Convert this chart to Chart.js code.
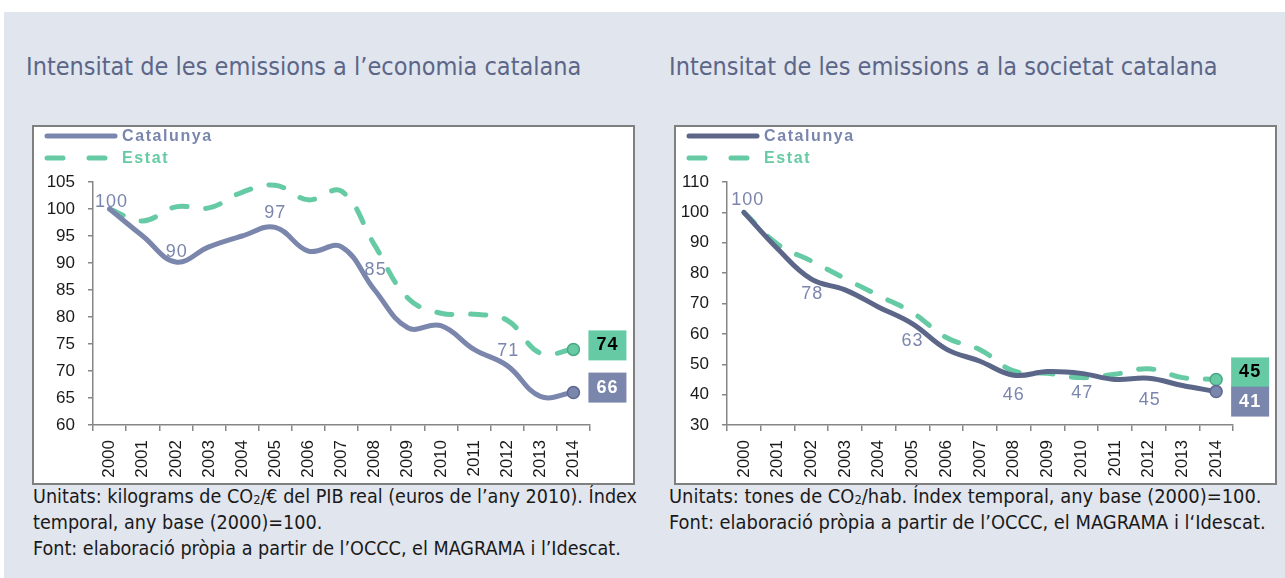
<!DOCTYPE html>
<html><head><meta charset="utf-8">
<script src="https://cdn.jsdelivr.net/npm/chart.js@4.4.1/dist/chart.umd.min.js"></script>
<style>
html,body{margin:0;padding:0;background:#fff;width:1285px;height:578px;overflow:hidden;position:relative;}
#panel{position:absolute;left:4px;top:12px;width:1281px;height:566px;background:#e1e5ee;}
.title{position:absolute;top:55px;height:24px;line-height:24px;font-family:"Liberation Sans Narrow","DejaVu Sans Condensed",sans-serif;font-size:25px;color:#5b6688;white-space:nowrap;}
.box{position:absolute;top:125px;width:599px;height:356px;border:2px solid #7f7f7f;background:#fff;}
.box canvas{display:block;}
.note{position:absolute;top:484px;font-family:"Liberation Sans Narrow","DejaVu Sans Condensed",sans-serif;font-size:19.6px;line-height:26px;color:#1a1a1a;white-space:nowrap;}
.note sub{font-size:0.65em;vertical-align:-0.1em;line-height:0;}
</style></head>
<body>
<div id="panel"></div>
<div class="title" style="left:26px">Intensitat de les emissions a l’economia catalana</div>
<div class="title" style="left:669px">Intensitat de les emissions a la societat catalana</div>
<div class="box" style="left:32px"><canvas id="c1" width="599" height="356"></canvas></div>
<div class="box" style="left:674px"><canvas id="c2" width="599" height="356"></canvas></div>
<div class="note" style="left:33px">Unitats: kilograms de CO<sub>2</sub>/€ del PIB real (euros de l’any 2010). Índex<br>temporal, any base (2000)=100.<br>Font: elaboració pròpia a partir de l’OCCC, el MAGRAMA i l’Idescat.</div>
<div class="note" style="left:669px;font-size:19.9px">Unitats: tones de CO<sub>2</sub>/hab. Índex temporal, any base (2000)=100.<br>Font: elaboració pròpia a partir de l’OCCC, el MAGRAMA i l‘Idescat.</div>
<script>
const years = ['2000','2001','2002','2003','2004','2005','2006','2007','2008','2009','2010','2011','2012','2013','2014'];
const seriesNames = ['Catalunya', 'Estat'];
// Intensitat de les emissions a l'economia catalana
const economiaCatalunya = [100, 95, 90.2, 93, 95, 96.6, 92.2, 93, 85, 78, 78.4, 74, 71, 65.3, 66];
const economiaEstat = [100, 97.8, 100.4, 100.2, 103.1, 104.4, 101.7, 103.3, 93.3, 83.5, 80.7, 80.5, 79.4, 73.3, 74];
const economiaYTicks = [60, 105, 5];
const economiaLabelIdx = [0, 2, 5, 8, 12];
// Intensitat de les emissions a la societat catalana
const societatCatalunya = [100, 88, 78, 74.5, 68.8, 63.3, 55, 51, 46.4, 47.6, 47, 45, 45.4, 43, 41];
const societatEstat = [100, 89.5, 84, 78.2, 72.6, 67, 58.8, 54.8, 47.8, 47, 45.6, 46.7, 48.5, 45.6, 45];
const societatYTicks = [30, 110, 10];
const societatLabelIdx = [0, 2, 5, 8, 10, 12];

const TICK_FONT = {family: "'Liberation Sans', Arial, sans-serif", size: 17};
const GREEN = '#66cba4', GREEN_DK = '#4aa882';

function makeChart(id, catVals, estVals, yt, labelIdx, cfg) {
  const last = years.length - 1;
  const radius = years.map((_, i) => i === last ? 6 : 0);
  const plugin = {
    id: 'decor' + id,
    afterDatasetsDraw(chart) {
      const ctx = chart.ctx;
      const meta = chart.getDatasetMeta(0);
      ctx.save();
      ctx.font = "18px 'Liberation Sans', Arial, sans-serif";
      ctx.letterSpacing = '1px';
      ctx.fillStyle = '#7b86ad';
      ctx.textAlign = 'center';
      ctx.textBaseline = 'middle';
      labelIdx.forEach((i, k) => {
        const el = meta.data[i];
        ctx.fillText(String(Math.round(catVals[i])), el.x + cfg.labelDx[k], el.y + cfg.labelDy[k]);
      });
      ctx.font = "bold 18px 'Liberation Sans', Arial, sans-serif";
      ctx.letterSpacing = '1px';
      [[1, estVals, GREEN, '#000', cfg.endDy[1]], [0, catVals, '#7b86ad', '#fff', cfg.endDy[0]]].forEach(([di, vals, bg, fg, dy]) => {
        const el = chart.getDatasetMeta(di).data[last];
        const x0 = el.x + 15, y0 = el.y + dy - 15;
        ctx.fillStyle = bg;
        ctx.fillRect(x0, y0, 38, 30);
        ctx.fillStyle = fg;
        ctx.fillText(String(Math.round(vals[last])), x0 + 19, y0 + 15);
      });
      ctx.restore();
    },
    afterDraw(chart) {
      const ctx = chart.ctx;
      ctx.save();
      chart.data.datasets.forEach((ds, k) => {
        const y = 9 + k * 22;
        ctx.beginPath();
        ctx.lineWidth = 5;
        ctx.lineCap = 'round';
        ctx.strokeStyle = ds.borderColor;
        ctx.setLineDash(k === 1 ? [16, 26] : []);
        ctx.moveTo(13, y); ctx.lineTo(81, y);
        ctx.stroke();
        ctx.setLineDash([]);
        ctx.font = "bold 16px 'Liberation Sans', Arial, sans-serif";
        ctx.letterSpacing = '1.6px';
        ctx.fillStyle = k === 1 ? GREEN : '#7b86ad';
        ctx.textBaseline = 'middle';
        ctx.textAlign = 'left';
        ctx.fillText(ds.label, 88, y + 1);
      });
      ctx.restore();
    }
  };
  return new Chart(document.getElementById(id), {
    type: 'line',
    data: {
      labels: years,
      datasets: [
        {label: seriesNames[0], data: catVals, borderColor: cfg.catColor, borderWidth: 5, tension: 0.4,
         borderCapStyle: 'round', borderJoinStyle: 'round', pointRadius: radius,
         pointBackgroundColor: '#7b86ad', pointBorderColor: '#5d6890', pointBorderWidth: 1.5},
        {label: seriesNames[1], data: estVals, borderColor: GREEN, borderWidth: 5, tension: 0.4,
         borderDash: [15, 19], borderCapStyle: 'round', borderJoinStyle: 'round', pointRadius: radius,
         pointBackgroundColor: GREEN, pointBorderColor: GREEN_DK, pointBorderWidth: 1.5}
      ]
    },
    options: {
      responsive: false, animation: false, devicePixelRatio: 1,
      layout: {padding: {top: 55, right: cfg.padRight, left: 0, bottom: 0}},
      plugins: {legend: {display: false}, tooltip: {enabled: false}},
      scales: {
        x: {
          offset: true,
          grid: {offset: true, drawOnChartArea: false, drawTicks: true, tickLength: 6, color: '#868686', lineWidth: 1.5},
          border: {color: '#868686', width: 1.5},
          ticks: {minRotation: 90, maxRotation: 90, autoSkip: false, padding: 9, color: '#1a1a1a', font: TICK_FONT},
          afterFit(s) { s.height = 58; }
        },
        y: {
          min: yt[0], max: yt[1],
          grid: {drawOnChartArea: false, drawTicks: true, tickLength: 5, color: '#868686', lineWidth: 1.5},
          border: {color: '#868686', width: 1.5},
          ticks: {stepSize: yt[2], padding: 13, color: '#1a1a1a', font: TICK_FONT},
          afterFit(s) { s.width = cfg.yWidth; }
        }
      }
    },
    plugins: [plugin]
  });
}

makeChart('c1', economiaCatalunya, economiaEstat, economiaYTicks, economiaLabelIdx, {
  catColor: '#7b86ad', padRight: 43, yWidth: 59,
  labelDx: [2, 1, 0, 1, 1], labelDy: [-7, -10, -14, -20, -15], endDy: [-5, -4]
});
makeChart('c2', societatCatalunya, societatEstat, societatYTicks, societatLabelIdx, {
  catColor: '#5b6689', padRight: 42, yWidth: 51,
  labelDx: [4, 1, 0, 0, 1, 1], labelDy: [-12, 15, 17, 20, 20, 22], endDy: [10, -7]
});
</script>
</body></html>
